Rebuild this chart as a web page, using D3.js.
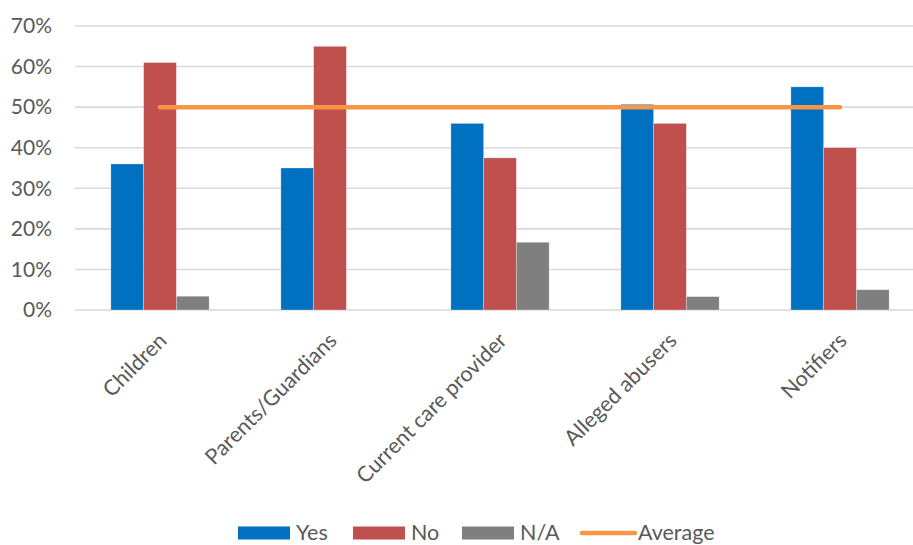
<!DOCTYPE html>
<html>
<head>
<meta charset="utf-8">
<script src="https://cdn.jsdelivr.net/npm/d3@7/dist/d3.min.js"></script>
<style>
  html, body { margin: 0; padding: 0; background: #fff; }
  svg { display: block; font-family: "Lato", "Open Sans", sans-serif; }
</style>
</head>
<body>
<svg id="chart" width="913" height="545"></svg>
<script>
// Respondent groups and the share answering each option
const categories = ["Children", "Parents/Guardians", "Current care provider", "Alleged abusers", "Notifiers"];
const seriesNames = ["Yes", "No", "N/A"];
const yesValues = [0.36, 0.35, 0.46, 0.507, 0.55];
const noValues  = [0.61, 0.65, 0.375, 0.46, 0.40];
const naValues  = [0.034, 0.0, 0.167, 0.033, 0.05];
const averageValues = [0.50, 0.50, 0.50, 0.50, 0.50];
const yTicks = [0, 0.1, 0.2, 0.3, 0.4, 0.5, 0.6, 0.7];

const colors = { "Yes": "#0070C0", "No": "#C0504D", "N/A": "#7F7F7F", "Average": "#F79646" };
const seriesValues = { "Yes": yesValues, "No": noValues, "N/A": naValues };

const svg = d3.select("#chart");
const plot = { left: 75, right: 925, top: 26, bottom: 310 };

const x = d3.scaleBand().domain(categories).range([plot.left, plot.right]).paddingInner(0).paddingOuter(0);
const groupWidth = x.bandwidth() * 0.578;
const xInner = d3.scaleBand().domain(seriesNames).range([0, groupWidth]);
const y = d3.scaleLinear().domain([0, 0.7]).range([plot.bottom, plot.top]);

// Horizontal gridlines
svg.append("g")
  .selectAll("line")
  .data(yTicks)
  .join("line")
  .attr("x1", plot.left).attr("x2", plot.right)
  .attr("y1", d => y(d)).attr("y2", d => y(d))
  .attr("stroke", "#D9D9D9").attr("stroke-width", 1.6);

// Y axis labels
const yAxis = d3.axisLeft(y).tickValues(yTicks).tickFormat(d3.format(".0%")).tickSize(0).tickPadding(0);
const yG = svg.append("g").attr("transform", `translate(52,0)`).call(yAxis);
yG.select(".domain").remove();
yG.selectAll("text").attr("fill", "#595959").style("font-size", "21px")
  .style("font-family", "Lato, 'Open Sans', sans-serif");

// Bars
const groups = svg.append("g")
  .selectAll("g")
  .data(categories)
  .join("g")
  .attr("transform", c => `translate(${x(c) + (x.bandwidth() - groupWidth) / 2},0)`);

groups.selectAll("rect")
  .data((c, i) => seriesNames.map(s => ({ s, v: seriesValues[s][i] })))
  .join("rect")
  .attr("x", d => xInner(d.s))
  .attr("width", xInner.bandwidth())
  .attr("y", d => y(d.v))
  .attr("height", d => y(0) - y(d.v))
  .attr("fill", d => colors[d.s])
  .attr("stroke", "#fff").attr("stroke-opacity", 0.5).attr("stroke-width", 0.6)
  .style("display", d => d.v > 0 ? null : "none");

// Average line
const line = d3.line()
  .x((d, i) => x(categories[i]) + x.bandwidth() / 2)
  .y(d => y(d));
svg.append("path")
  .datum(averageValues)
  .attr("d", line)
  .attr("fill", "none")
  .attr("stroke", colors["Average"])
  .attr("stroke-width", 4.5)
  .attr("stroke-linecap", "round");

// Category labels, rotated
svg.append("g")
  .selectAll("text")
  .data(categories)
  .join("text")
  .attr("transform", c => `translate(${x(c) + x.bandwidth() / 2 + 8},${plot.bottom + 32}) rotate(-45)`)
  .attr("text-anchor", "end")
  .attr("fill", "#595959")
  .style("font-size", "21.5px")
  .text(c => c);

// Legend
const legendItems = [
  { name: "Yes", type: "rect", x: 238 },
  { name: "No", type: "rect", x: 353 },
  { name: "N/A", type: "rect", x: 462 },
  { name: "Average", type: "line", x: 580 }
];
const legend = svg.append("g");
legendItems.forEach(it => {
  if (it.type === "rect") {
    legend.append("rect").attr("x", it.x).attr("y", 526.5).attr("width", 52).attr("height", 13)
      .attr("fill", colors[it.name]);
  } else {
    legend.append("line").attr("x1", it.x + 2).attr("x2", it.x + 55).attr("y1", 533).attr("y2", 533)
      .attr("stroke", colors[it.name]).attr("stroke-width", 4.5).attr("stroke-linecap", "round");
  }
  legend.append("text").attr("x", it.x + 58).attr("y", 539.5)
    .attr("fill", "#595959").style("font-size", "21.5px").text(it.name);
});
</script>
</body>
</html>
